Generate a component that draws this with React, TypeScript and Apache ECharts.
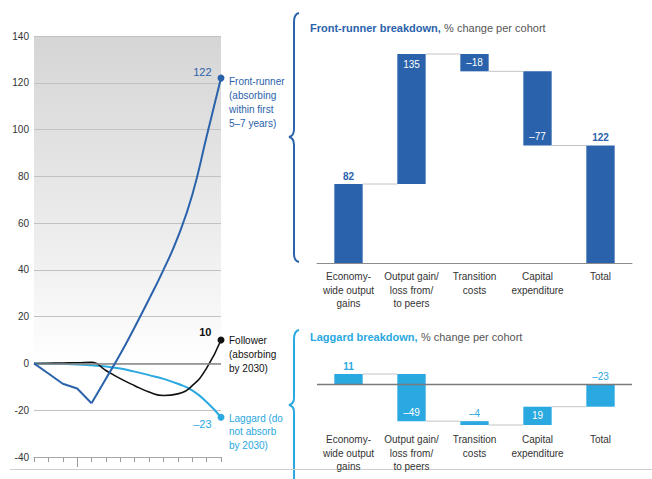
import React, { useEffect, useRef } from 'react';
import * as echarts from 'echarts';

// ---------- data ----------
const years = [0, 1, 2, 3, 4, 5, 6, 7, 8, 9, 10, 11, 12, 13];
const frontRunner = [0, -4.3, -8.7, -10.7, -17, -6.5, 4, 15.5, 27.5, 40, 54, 72, 97, 122];
const follower = [0, 0.1, 0.2, 0.3, 0.5, -3, -6.5, -9.5, -12.2, -13.7, -13, -9.5, -2, 10];
const laggard = [0, -0.1, -0.2, -0.4, -0.8, -1.3, -2.2, -3.5, -5, -6.6, -8.7, -11.5, -16.5, -23];
const leftYMin = -40;
const leftYMax = 140;
const leftYStep = 20;
const longTickYears = [3];

const breakdownCategories = [
  'Economy-\nwide output\ngains',
  'Output gain/\nloss from/\nto peers',
  'Transition\ncosts',
  'Capital\nexpenditure',
  'Total',
];
const frontBreakdown = [82, 135, -18, -77, 122];
const laggardBreakdown = [11, -49, -4, 19, -23];

// ---------- styles ----------
const DARK_BLUE = '#2a62ab';
const LIGHT_BLUE = '#2aa8e0';
const FONT = '"Liberation Sans", Arial, Helvetica, sans-serif';
const frontLabelPos = ['above', 'insideTop', 'inside', 'insideBottom', 'above'];
const frontLabelBold = [true, false, false, false, true];
const laggardLabelPos = ['above', 'insideBottom', 'above', 'inside', 'above'];
const laggardLabelBold = [true, false, false, false, false];

echarts.graphic.registerShape(
  'braceTop',
  echarts.graphic.extendPath(
    'M299,13 Q294,14 294,22 L294,129 Q294,136 289,137 Q294,138 294,145 L294,254 Q294,261 299,262',
    {}
  )
);
echarts.graphic.registerShape(
  'braceBottom',
  echarts.graphic.extendPath(
    'M299,330 Q294,331 294,339 L294,398 Q294,404 289,405 Q294,406 294,412 L294,479',
    {}
  )
);

const fmt = (v: number) => (v < 0 ? '\u2013' + Math.abs(v) : String(v));

function buildSteps(values: number[]) {
  let cum = 0;
  return values.map((v, i) => {
    if (i === values.length - 1) return [i, 0, v, v];
    const s = cum;
    cum += v;
    return [i, s, cum, v];
  });
}

function makeRenderItem(
  color: string,
  n: number,
  pos: string[],
  bold: boolean[],
  drawZero: boolean
) {
  return (params: any, api: any) => {
    const i = api.value(0);
    const s = api.value(1);
    const e = api.value(2);
    const v = api.value(3);
    const ps = api.coord([i, s]);
    const pe = api.coord([i, e]);
    const band = api.size([1, 0])[0];
    const bw = band * 0.45;
    const x = ps[0] - bw / 2;
    const yTop = Math.min(ps[1], pe[1]);
    const yBot = Math.max(ps[1], pe[1]);
    const children: any[] = [];
    children.push({
      type: 'rect',
      shape: { x, y: yTop, width: bw, height: Math.max(yBot - yTop, 1) },
      style: { fill: color },
    });
    if (i < n - 1) {
      const next = api.coord([i + 1, e]);
      children.push({
        type: 'line',
        shape: { x1: x + bw, y1: pe[1], x2: next[0] - bw / 2, y2: pe[1] },
        style: { stroke: '#c4c4c4', lineWidth: 1 },
      });
    }
    const p = pos[i];
    let ly = (yTop + yBot) / 2;
    let fill = '#ffffff';
    if (p === 'above') {
      ly = yTop - 8;
      fill = color;
    } else if (p === 'insideTop') ly = yTop + 10;
    else if (p === 'insideBottom') ly = yBot - 9;
    children.push({
      type: 'text',
      style: {
        text: fmt(v),
        x: ps[0],
        y: ly,
        align: 'center',
        verticalAlign: 'middle',
        fill,
        fontSize: 10,
        fontWeight: bold[i] ? 'bold' : 'normal',
        fontFamily: FONT,
      },
    });
    if (drawZero && params.dataIndex === n - 1) {
      const cs = params.coordSys;
      const z = api.coord([0, 0])[1];
      children.push({
        type: 'line',
        shape: { x1: cs.x, y1: z, x2: cs.x + cs.width, y2: z },
        style: { stroke: '#7a7a7a', lineWidth: 1.5 },
      });
    }
    return { type: 'group', children };
  };
}

const pairs = (arr: number[], from = 0, to = arr.length - 1) =>
  years.slice(from, to + 1).map((x, k) => [x, arr[from + k]]);

const last = years.length - 1;

function buildOption(): any {
  const frontSteps = buildSteps(frontBreakdown);
  const lagSteps = buildSteps(laggardBreakdown);
  const endLabel = (text: string, color: string, offset: number[], bold = false) => ({
    show: true,
    position: 'left',
    distance: 6,
    offset,
    color,
    fontSize: 11,
    fontWeight: bold ? 'bold' : 'normal',
    fontFamily: FONT,
    formatter: (p: any) => (p.value[0] === years[last] ? text : ''),
  });
  const endSymbolSize = (_v: any, p: any) => (p.dataIndex === last - (p.seriesName === 'Front-runner' ? 4 : 0) ? 7 : 0);

  const catLabel = {
    color: '#333',
    fontSize: 10,
    lineHeight: 13.5,
    fontFamily: FONT,
    interval: 0,
  };

  return {
    animation: false,
    backgroundColor: '#ffffff',
    textStyle: { fontFamily: FONT },
    grid: [
      {
        left: 34,
        top: 36,
        right: 431,
        bottom: 22,
        show: true,
        borderWidth: 0,
        backgroundColor: new echarts.graphic.LinearGradient(0, 0, 0, 1, [
          { offset: 0, color: '#d5d5d5' },
          { offset: 0.5, color: '#eeeeee' },
          { offset: 0.78, color: '#ffffff' },
          { offset: 1, color: '#ffffff' },
        ]),
      },
      { left: 317, right: 20, top: 54, bottom: 216 },
      { left: 317, right: 20, top: 374, bottom: 54 },
    ],
    xAxis: [
      {
        gridIndex: 0,
        type: 'value',
        min: years[0],
        max: years[last],
        interval: 1,
        axisLine: { show: true, onZero: false, lineStyle: { color: '#a8a8a8', width: 1 } },
        axisTick: { show: true, length: 5, lineStyle: { color: '#9a9a9a' } },
        axisLabel: { show: false },
        splitLine: { show: false },
      },
      {
        gridIndex: 0,
        type: 'value',
        position: 'bottom',
        min: years[0],
        max: years[last],
        axisLine: { show: false, onZero: false },
        axisTick: { show: true, length: 10, customValues: longTickYears, lineStyle: { color: '#9a9a9a' } },
        axisLabel: { show: false },
        splitLine: { show: false },
      },
      {
        gridIndex: 1,
        type: 'category',
        data: breakdownCategories,
        axisLine: { show: true, onZero: false, lineStyle: { color: '#8c8c8c', width: 1 } },
        axisTick: { show: false },
        axisLabel: { ...catLabel, margin: 7 },
      },
      {
        gridIndex: 2,
        type: 'category',
        data: breakdownCategories,
        axisLine: { show: false, onZero: false },
        axisTick: { show: false },
        axisLabel: { ...catLabel, margin: 8 },
      },
    ],
    yAxis: [
      {
        gridIndex: 0,
        type: 'value',
        min: leftYMin,
        max: leftYMax,
        interval: leftYStep,
        axisLine: { show: false },
        axisTick: { show: false },
        axisLabel: { color: '#333', fontSize: 10, margin: 5, fontFamily: FONT },
        splitLine: { show: true, lineStyle: { color: '#c2c2c2', width: 1 } },
      },
      { gridIndex: 1, type: 'value', min: 0, max: 217, show: false, splitLine: { show: false } },
      { gridIndex: 2, type: 'value', min: -42, max: 11, show: false, splitLine: { show: false } },
    ],
    series: [
      {
        name: 'Laggard',
        type: 'line',
        xAxisIndex: 0,
        yAxisIndex: 0,
        data: pairs(laggard),
        smooth: 0.5,
        symbol: 'circle',
        showSymbol: true,
        symbolSize: endSymbolSize,
        lineStyle: { color: LIGHT_BLUE, width: 2 },
        itemStyle: { color: LIGHT_BLUE },
        label: endLabel(fmt(laggard[last]), LIGHT_BLUE, [0, 7]),
        markLine: {
          silent: true,
          symbol: 'none',
          label: { show: false },
          lineStyle: { color: '#8a8a8a', width: 1.5, type: 'solid' },
          data: [{ yAxis: 0 }],
        },
        z: 3,
      },
      {
        name: 'Follower',
        type: 'line',
        xAxisIndex: 0,
        yAxisIndex: 0,
        data: pairs(follower),
        smooth: 0.5,
        symbol: 'circle',
        showSymbol: true,
        symbolSize: endSymbolSize,
        lineStyle: { color: '#111111', width: 1.6 },
        itemStyle: { color: '#111111' },
        label: endLabel(fmt(follower[last]), '#111111', [0, -8], true),
        z: 4,
      },
      {
        name: 'Front-runner start',
        type: 'line',
        xAxisIndex: 0,
        yAxisIndex: 0,
        data: pairs(frontRunner, 0, 4),
        smooth: false,
        showSymbol: false,
        lineStyle: { color: DARK_BLUE, width: 2 },
        z: 5,
      },
      {
        name: 'Front-runner',
        type: 'line',
        xAxisIndex: 0,
        yAxisIndex: 0,
        data: pairs(frontRunner, 4, last),
        smooth: 0.5,
        symbol: 'circle',
        showSymbol: true,
        symbolSize: endSymbolSize,
        lineStyle: { color: DARK_BLUE, width: 2 },
        itemStyle: { color: DARK_BLUE },
        label: endLabel(fmt(frontRunner[last]), DARK_BLUE, [0, -6]),
        z: 5,
      },
      {
        name: 'Front-runner breakdown',
        type: 'custom',
        xAxisIndex: 2,
        yAxisIndex: 1,
        data: frontSteps,
        encode: { x: 0, y: [1, 2] },
        renderItem: makeRenderItem(DARK_BLUE, frontSteps.length, frontLabelPos, frontLabelBold, false),
      },
      {
        name: 'Laggard breakdown',
        type: 'custom',
        xAxisIndex: 3,
        yAxisIndex: 2,
        data: lagSteps,
        encode: { x: 0, y: [1, 2] },
        renderItem: makeRenderItem(LIGHT_BLUE, lagSteps.length, laggardLabelPos, laggardLabelBold, true),
      },
    ],
    graphic: [
      {
        type: 'braceTop',
        x: 0,
        y: 0,
        style: { stroke: DARK_BLUE, fill: 'none', lineWidth: 2 },
      },
      {
        type: 'braceBottom',
        x: 0,
        y: 0,
        style: { stroke: LIGHT_BLUE, fill: 'none', lineWidth: 2 },
      },
      {
        type: 'line',
        shape: { x1: 10, y1: 469.5, x2: 652, y2: 469.5 },
        style: { stroke: '#cfcfcf', lineWidth: 1 },
      },
      {
        type: 'text',
        x: 229,
        y: 74,
        style: {
          text: 'Front-runner\n(absorbing\nwithin first\n5\u20137 years)',
          fill: DARK_BLUE,
          fontSize: 10,
          lineHeight: 14,
          fontFamily: FONT,
          align: 'left',
          verticalAlign: 'top',
        },
      },
      {
        type: 'text',
        x: 229,
        y: 333,
        style: {
          text: 'Follower\n(absorbing\nby 2030)',
          fill: '#111111',
          fontSize: 10,
          lineHeight: 14,
          fontFamily: FONT,
          align: 'left',
          verticalAlign: 'top',
        },
      },
      {
        type: 'text',
        x: 229,
        y: 411.5,
        style: {
          text: 'Laggard (do\nnot absorb\nby 2030)',
          fill: LIGHT_BLUE,
          fontSize: 10,
          lineHeight: 13.5,
          fontFamily: FONT,
          align: 'left',
          verticalAlign: 'top',
        },
      },
      {
        type: 'text',
        x: 310,
        y: 28,
        style: {
          text: '{b|Front-runner breakdown,} {n|% change per cohort}',
          verticalAlign: 'middle',
          align: 'left',
          rich: {
            b: { fill: DARK_BLUE, fontWeight: 'bold', fontSize: 11, fontFamily: FONT },
            n: { fill: '#555555', fontSize: 11, fontFamily: FONT },
          },
        },
      },
      {
        type: 'text',
        x: 310,
        y: 336.5,
        style: {
          text: '{b|Laggard breakdown,} {n|% change per cohort}',
          verticalAlign: 'middle',
          align: 'left',
          rich: {
            b: { fill: LIGHT_BLUE, fontWeight: 'bold', fontSize: 11, fontFamily: FONT },
            n: { fill: '#555555', fontSize: 11, fontFamily: FONT },
          },
        },
      },
    ],
  };
}

export default function App() {
  const ref = useRef<HTMLDivElement>(null);
  useEffect(() => {
    document.body.style.margin = '0';
    const chart = echarts.init(ref.current!, null, { renderer: 'svg' });
    chart.setOption(buildOption());
    return () => chart.dispose();
  }, []);
  return (
    <div
      ref={ref}
      style={{ position: 'absolute', left: 0, top: 0, width: 652, height: 479, background: '#fff' }}
    />
  );
}
